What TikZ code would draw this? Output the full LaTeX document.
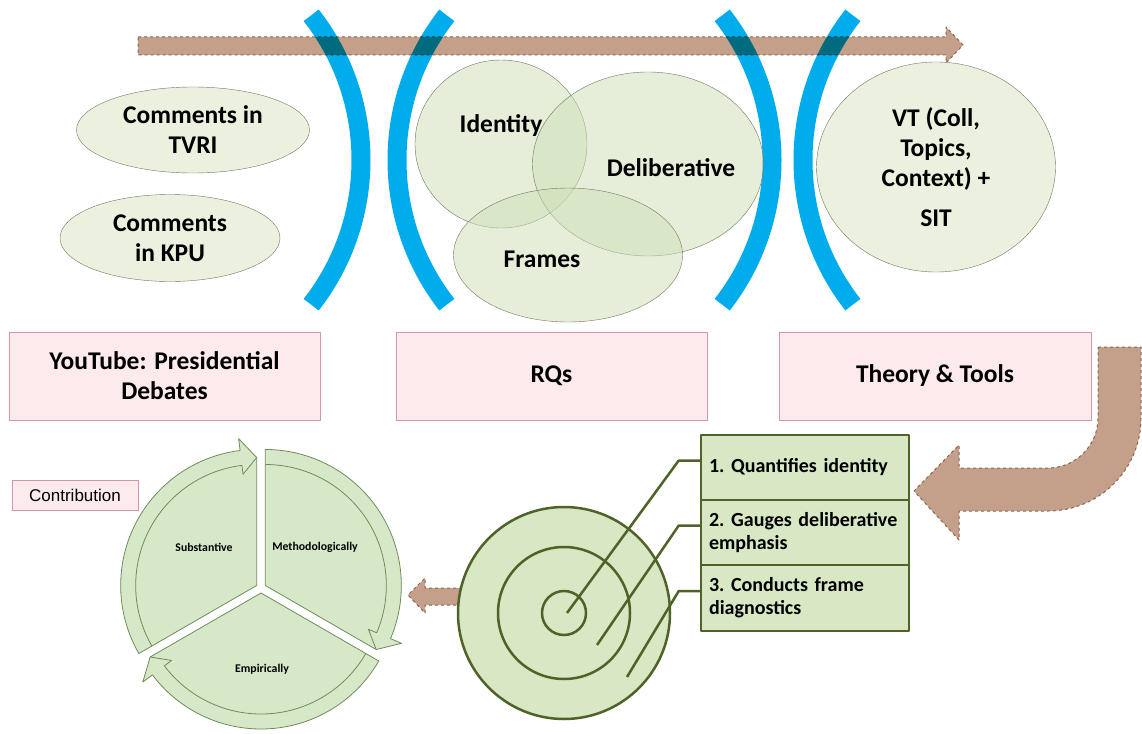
\documentclass[tikz,border=0pt]{standalone}
\usepackage{fontspec}
\setmainfont{Carlito}
\newfontfamily\arialfont{Liberation Sans}
\usetikzlibrary{shapes.geometric}
\definecolor{brownfill}{RGB}{196,160,138}
\definecolor{brownline}{RGB}{140,100,80}
\definecolor{arcblue}{RGB}{0,172,236}
\definecolor{ellfill}{RGB}{235,241,222}
\definecolor{ellline}{RGB}{110,120,95}
\definecolor{vennfill}{RGB}{205,222,182}
\definecolor{pinkfill}{RGB}{252,234,237}
\definecolor{pinkline}{RGB}{215,150,165}
\definecolor{tgtfill}{RGB}{216,231,196}
\definecolor{darkgreen}{RGB}{79,98,40}
\definecolor{cycfill}{RGB}{215,232,200}
\definecolor{cycline}{RGB}{110,140,90}
\tikzset{ cmt/.style = { ellipse % comment ellipse
        , draw = ellline
        , fill = ellfill
        , inner sep = 0pt
        , align = center
        , font = \fontsize{25.5}{30}\selectfont\bfseries
        }
        , venn/.style = { ellipse % overlapping RQ
        , draw = ellline
        , fill = vennfill
        , fill opacity = 0.5
        , inner sep = 0pt
        }
        , lab/.style = { inner sep = 0pt % plain label
        , font = \fontsize{25.5}{30}\selectfont\bfseries
        }
        , pbox/.style = { rectangle % pink stage box
        , draw = pinkline
        , fill = pinkfill
        , minimum height = 88pt
        , align = center
        , font = \fontsize{25.5}{30}\selectfont\bfseries
        }
        , gbox/.style = { rectangle % finding box
        , draw = darkgreen
        , line width = 2.5pt
        , fill = tgtfill
        , minimum width = 208pt
        , text width = 192pt
        , inner xsep = 8pt
        , align = left
        , font = \fontsize{20}{23}\selectfont\bfseries
        }
        }

\begin{document}
\begin{tikzpicture}[x=1pt, y=1pt, line join=round,
        arc_style/.style={draw=arcblue, line width=19pt},
        arrow_style/.style={draw=brownline, fill=brownfill, dashed, line width=1pt},
        target_style/.style={circle, draw=darkgreen, fill=tgtfill, line width=2.5pt, inner sep=0pt},
        leader_style/.style={draw=darkgreen, line width=2.5pt},
        cyc_style/.style={draw=cycline, fill=cycfill, line width=0.8pt},
        cyc_line/.style={draw=cycline, line width=0.8pt},
        small_lab/.style={inner sep=0pt, font=\fontsize{11.8}{13}\selectfont\bfseries}]
        \useasboundingbox (0,0) rectangle (1142,-733);

        % flow arrow along the top
        \draw [arrow_style] (138,-37) -- (946,-37) -- (946,-27) -- (963,-45) -- (946,-63) -- (946,-55) -- (138,-55) -- cycle;

        % blue brackets
        \begin{scope}[blend mode=multiply]
            \draw [arc_style] (126,-160) ++(38:235) arc (38:-38:235);
            \draw [arc_style] (632,-160) ++(142:235) arc (142:218:235);
            \draw [arc_style] (537,-160) ++(38:235) arc (38:-38:235);
            \draw [arc_style] (1038,-160) ++(142:235) arc (142:218:235);
        \end{scope}

        \node [cmt, minimum width=233pt, minimum height=86pt] (tvri) at (193,-130) {Comments in\\TVRI};
        \node [cmt, minimum width=220pt, minimum height=87pt] (kpu) at (170,-238) {Comments\\in KPU};

        \node [venn, minimum width=172pt, minimum height=168pt] (idn) at (501,-144) {};
        \node [venn, minimum width=231pt, minimum height=184pt] (dlb) at (648,-164) {};
        \node [venn, minimum width=229pt, minimum height=134pt] (frm) at (568,-255) {};
        \node [lab] (idn_lab) at (501,-126) {Identity};
        \node [lab] (dlb_lab) at (671,-168) {Deliberative};
        \node [lab] (frm_lab) at (542,-259) {Frames};

        \node [cmt, minimum width=239pt, minimum height=210pt] (vt) at (936,-167) {VT (Coll,\\Topics,\\Context) +\\[10pt]SIT};

        \node [pbox, minimum width=311pt] (yt) at (164.5,-376) {YouTube: Presidential\\Debates};
        \node [pbox, minimum width=311pt] (rq) at (551.5,-376) {RQs};
        \node [pbox, minimum width=312pt] (tt) at (935,-376) {Theory \& Tools};

        % turn arrow from Theory & Tools
        \draw [arrow_style] (1098,-347) -- (1141,-347) -- (1141,-418) arc (0:-90:93) -- (959,-511) -- (959,-540)
            -- (914,-491) -- (959,-445) -- (959,-468) -- (1048,-468) arc (-90:0:50) -- cycle;

        % arrow to contribution
        \draw [arrow_style] (462,-588) -- (425,-588) -- (425,-578) -- (408,-595) -- (425,-613) -- (425,-605) -- (462,-605);

        % target
        \node [target_style, minimum size=212pt] (ring3) at (564,-613) {};
        \node [target_style, minimum size=132pt] (ring2) at (564,-613) {};
        \node [target_style, minimum size=44pt] (ring1) at (564,-613) {};
        \coordinate (p1) at (567,-613);
        \coordinate (p2) at (597,-645);
        \coordinate (p3) at (627,-677);

        \node [gbox, minimum height=65pt] (q1) at (805,-467.5) {1.\ Quantifies identity};
        \node [gbox, minimum height=65pt] (q2) at (805,-532.5) {2.\ Gauges deliberative\\emphasis};
        \node [gbox, minimum height=66pt] (q3) at (805,-598) {3.\ Conducts frame\\diagnostics};
        \draw [leader_style] ([yshift=7pt]q1.west) -- ++(-21,0) -- (p1);
        \draw [leader_style] ([yshift=7pt]q2.west) -- ++(-21,0) -- (p2);
        \draw [leader_style] ([yshift=7pt]q3.west) -- ++(-21,0) -- (p3);

        % contribution cycle
        \begin{scope}[shift={(261,-588)}]
            \begin{scope}[shift={(150:5)}]
                \draw [cyc_style] (0,0) -- (210:136) arc (210:97:136) -- (97:148) -- (90:128) -- cycle;
                \draw [cyc_line] (90:128) -- (97:112) -- (97:121) arc (97:210:121);
            \end{scope}
            \begin{scope}[shift={(30:5)}]
                \draw [cyc_style] (0,0) -- (90:136) arc (90:-23:136) -- (-23:148) -- (-30:128) -- cycle;
                \draw [cyc_line] (-30:128) -- (-23:112) -- (-23:121) arc (-23:90:121);
            \end{scope}
            \begin{scope}[shift={(270:5)}]
                \draw [cyc_style] (0,0) -- (330:136) arc (330:217:136) -- (217:148) -- (210:128) -- cycle;
                \draw [cyc_line] (210:128) -- (217:112) -- (217:121) arc (217:330:121);
            \end{scope}
        \end{scope}
        \node [small_lab] (sub) at (204,-547) {Substantive};
        \node [small_lab] (meth) at (315,-547) {Methodologically};
        \node [small_lab] (emp) at (262,-669) {Empirically};

        \node [rectangle, draw=pinkline, fill=pinkfill, minimum width=126pt, minimum height=30pt, font=\arialfont\fontsize{17}{20}\selectfont] (contrib) at (75,-495) {Contribution};

        \end{tikzpicture}
\end{document}
